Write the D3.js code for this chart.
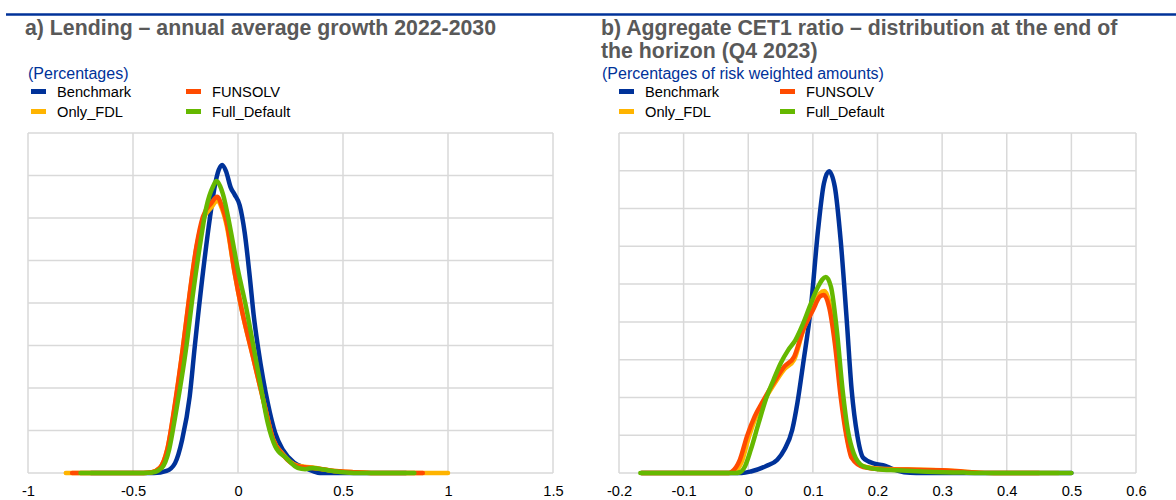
<!DOCTYPE html>
<html><head><meta charset="utf-8">
<script src="https://cdn.jsdelivr.net/npm/d3@7"></script>
<style>body{margin:0;background:#fff}svg{display:block;font-family:"Liberation Sans",Arial,sans-serif}</style>
</head><body><svg id="c" width="1176" height="500"></svg>
<script>
const seriesNames = ["Benchmark","Only_FDL","FUNSOLV","Full_Default"];
const seriesColors = {Benchmark:"#003299",Only_FDL:"#ffb400",FUNSOLV:"#ff4b00",Full_Default:"#65b800"};
const legendOrder = ["Benchmark","FUNSOLV","Only_FDL","Full_Default"];

// Panel a: lending growth density
const aTicks = [-1,-0.5,0,0.5,1,1.5];
const aBenchmark = [[-0.7,0],[-0.4,0],[-0.34,0.05],[-0.3,0.23],[-0.266,0.78],[-0.23,1.8],[-0.206,2.97],[-0.16,5.0],[-0.133,6.03],[-0.111,6.74],[-0.092,7.13],[-0.075,7.25],[-0.057,7.1],[-0.035,6.72],[-0.016,6.55],[0.008,6.3],[0.032,5.65],[0.056,4.62],[0.075,3.7],[0.095,2.97],[0.12,2.2],[0.142,1.64],[0.177,0.94],[0.213,0.55],[0.266,0.25],[0.32,0.12],[0.36,0.04],[0.39,0],[0.8,0]];
const aOnlyFDL = [[-0.82,0],[-0.45,0],[-0.41,0.02],[-0.372,0.12],[-0.337,0.55],[-0.30,1.6],[-0.262,2.95],[-0.23,4.2],[-0.198,5.3],[-0.167,5.95],[-0.127,6.25],[-0.099,6.4],[-0.075,6.2],[-0.053,5.8],[-0.018,4.77],[0.018,3.84],[0.071,2.74],[0.124,1.64],[0.168,0.78],[0.213,0.45],[0.284,0.17],[0.355,0.13],[0.44,0.06],[0.55,0.02],[0.65,0],[1.0,0]];
const aFUNSOLV = [[-0.79,0],[-0.45,0],[-0.41,0.02],[-0.372,0.12],[-0.337,0.55],[-0.30,1.64],[-0.262,2.97],[-0.23,4.23],[-0.198,5.33],[-0.167,6.03],[-0.127,6.35],[-0.099,6.5],[-0.075,6.25],[-0.053,5.87],[-0.018,4.77],[0.018,3.84],[0.071,2.74],[0.124,1.64],[0.168,0.78],[0.213,0.43],[0.284,0.16],[0.355,0.12],[0.44,0.06],[0.55,0.02],[0.65,0],[0.88,0]];
const aFullDefault = [[-0.75,0],[-0.45,0],[-0.41,0.01],[-0.363,0.12],[-0.328,0.55],[-0.30,1.3],[-0.246,2.97],[-0.214,4.23],[-0.182,5.33],[-0.15,6.27],[-0.119,6.74],[-0.103,6.87],[-0.085,6.75],[-0.071,6.55],[-0.035,5.71],[0,4.77],[0.035,3.99],[0.071,3.05],[0.106,2.11],[0.142,1.17],[0.177,0.63],[0.23,0.35],[0.284,0.12],[0.32,0.09],[0.355,0.12],[0.408,0.08],[0.5,0.02],[0.6,0],[0.84,0]];

// Panel b: CET1 ratio density
const bTicks = [-0.2,-0.1,0,0.1,0.2,0.3,0.4,0.5,0.6];
const bBenchmark = [[-0.165,0],[-0.01,0],[0.004,0.04],[0.027,0.18],[0.045,0.35],[0.056,0.62],[0.068,1.14],[0.076,1.85],[0.085,2.9],[0.097,4.4],[0.108,6.43],[0.117,7.66],[0.125,7.99],[0.134,7.57],[0.143,6.16],[0.152,4.14],[0.16,2.2],[0.169,0.97],[0.178,0.4],[0.195,0.25],[0.212,0.19],[0.224,0.1],[0.241,0.02],[0.26,0],[0.5,0]];
const bOnlyFDL = [[-0.165,0],[-0.03,0],[-0.02,0.05],[-0.01,0.3],[0.0,0.9],[0.01,1.4],[0.021,1.8],[0.039,2.32],[0.056,2.75],[0.071,3.0],[0.085,3.78],[0.1,4.35],[0.111,4.75],[0.118,4.82],[0.125,4.55],[0.134,3.6],[0.143,2.2],[0.152,1.05],[0.16,0.45],[0.178,0.18],[0.206,0.11],[0.247,0.09],[0.299,0.07],[0.334,0.035],[0.38,0],[0.48,0]];
const bFUNSOLV = [[-0.165,0],[-0.03,0],[-0.025,0.04],[-0.013,0.35],[-0.002,0.97],[0.01,1.5],[0.021,1.85],[0.039,2.38],[0.056,2.82],[0.071,3.08],[0.085,3.79],[0.1,4.31],[0.111,4.67],[0.117,4.71],[0.125,4.4],[0.134,3.43],[0.143,2.02],[0.152,0.97],[0.16,0.4],[0.178,0.16],[0.206,0.1],[0.247,0.09],[0.299,0.07],[0.334,0.035],[0.38,0],[0.45,0]];
const bFullDefault = [[-0.167,0],[-0.02,0],[-0.013,0.02],[-0.005,0.18],[0.004,0.62],[0.016,1.32],[0.027,1.94],[0.039,2.46],[0.05,2.9],[0.062,3.26],[0.073,3.52],[0.085,3.96],[0.097,4.49],[0.108,4.93],[0.12,5.19],[0.128,4.93],[0.137,3.79],[0.146,2.2],[0.154,1.14],[0.163,0.53],[0.178,0.18],[0.2,0.1],[0.23,0.07],[0.276,0.035],[0.334,0.01],[0.38,0],[0.5,0]];

const svg = d3.select("#c");
svg.append("line").attr("x1",6).attr("x2",1176).attr("y1",14.5).attr("y2",14.5).attr("stroke","#003299").attr("stroke-width",2.5);

function panel(opt){
  const g = svg.append("g");
  const x = d3.scaleLinear().domain(opt.xd).range(opt.xr);
  const y = d3.scaleLinear().domain([0,opt.ymax]).range([473,133]);
  const t = g.append("text").attr("x",opt.tx).attr("y",35).attr("fill","#595959")
    .attr("font-weight","bold").attr("font-size","21.3px");
  opt.title.forEach((s,i)=>t.append("tspan").attr("x",opt.tx).attr("dy",i?23:0).text(s));
  g.append("text").attr("x",opt.sx).attr("y",79).attr("fill","#003299").attr("font-size","16px").text(opt.sub);
  legendOrder.forEach((n,i)=>{
    const col = i%2, row = Math.floor(i/2);
    const lx = opt.lx + col*opt.lcol, ly = 89 + row*20;
    g.append("rect").attr("x",lx).attr("y",ly).attr("width",15).attr("height",5).attr("fill",seriesColors[n]);
    g.append("text").attr("x",lx+26).attr("y",ly+8).attr("font-size","14.67px").attr("fill","#000").text(n);
  });
  d3.range(0,opt.ymax+1).forEach(v=>{
    g.append("line").attr("x1",opt.xr[0]).attr("x2",opt.xr[1]).attr("y1",y(v)).attr("y2",y(v)).attr("stroke","#d9d9d9").attr("stroke-width",1.5);
  });
  opt.ticks.forEach(v=>{
    g.append("line").attr("x1",x(v)).attr("x2",x(v)).attr("y1",133).attr("y2",473).attr("stroke","#d9d9d9").attr("stroke-width",1.5);
  });
  const ax = g.append("g").attr("transform","translate(0,473)")
    .call(d3.axisBottom(x).tickValues(opt.ticks).tickSize(0).tickPadding(13).tickFormat(d=>String(d)));
  ax.select(".domain").remove();
  ax.selectAll("text").attr("font-size","14.67px").attr("fill","#000").attr("font-family","Liberation Sans, Arial, sans-serif");
  const line = d3.line().x(d=>x(d[0])).y(d=>y(d[1])).curve(d3.curveMonotoneX);
  seriesNames.forEach(n=>{
    g.append("path").datum(opt.data[n]).attr("d",line).attr("fill","none")
      .attr("stroke",seriesColors[n]).attr("stroke-width",4.5).attr("stroke-linecap","round").attr("stroke-linejoin","round");
  });
}

panel({xd:[-1,1.5],xr:[28,553],ymax:8,ticks:aTicks,tx:25,sx:28,lx:31,lcol:155,
  title:["a) Lending – annual average growth 2022-2030"],sub:"(Percentages)",
  data:{Benchmark:aBenchmark,Only_FDL:aOnlyFDL,FUNSOLV:aFUNSOLV,Full_Default:aFullDefault}});
panel({xd:[-0.2,0.6],xr:[619,1136],ymax:9,ticks:bTicks,tx:601,sx:602,lx:619,lcol:161,
  title:["b) Aggregate CET1 ratio – distribution at the end of","the horizon (Q4 2023)"],sub:"(Percentages of risk weighted amounts)",
  data:{Benchmark:bBenchmark,Only_FDL:bOnlyFDL,FUNSOLV:bFUNSOLV,Full_Default:bFullDefault}});
</script></body></html>
